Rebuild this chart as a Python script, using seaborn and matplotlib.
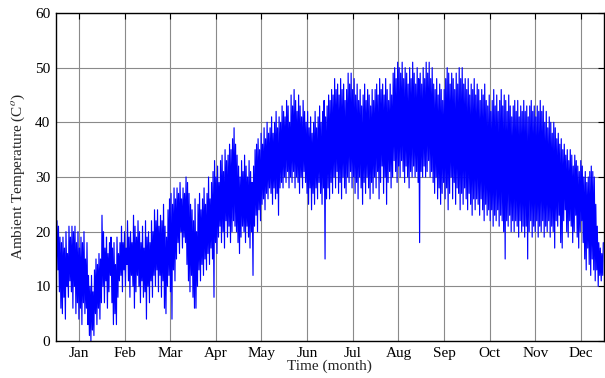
import numpy as np
import pandas as pd
import matplotlib
matplotlib.use("Agg")
import matplotlib.pyplot as plt
import seaborn as sns

# Daily minimum and maximum ambient temperature (deg C) for one year, by month
daily_low = [
    # Jan
    15, 13, 9, 6, 5, 8, 4, 10, 8, 11, 9, 6, 10, 5, 7, 4, 6, 3, 7, 5, 6, 3, 1, 0, 2, 1, 5, 3, 6, 4, 7,
    # Feb
    10, 7, 11, 6, 9, 12, 7, 3, 5, 3, 8, 11, 12, 9, 13, 10, 14, 11, 8, 12, 10, 6, 9, 12, 10, 7, 11, 8,
    # Mar
    9, 4, 10, 7, 11, 8, 12, 10, 13, 9, 12, 8, 11, 6, 5, 10, 12, 9, 4, 13, 11, 15, 18, 16, 20, 17, 19, 18, 14, 11, 9,
    # Apr
    12, 8, 6, 6, 10, 13, 11, 14, 12, 15, 13, 16, 14, 17, 15, 8, 18, 16, 19, 21, 18, 20, 17, 22, 19, 21, 18, 20, 22, 21,
    # May
    20, 18, 16, 19, 21, 20, 18, 21, 19, 17, 20, 12, 21, 23, 20, 24, 22, 25, 26, 24, 27, 26, 28, 27, 25, 28, 26, 27, 23, 28, 29,
    # Jun
    28, 30, 29, 31, 28, 30, 29, 31, 28, 30, 29, 27, 30, 28, 31, 29, 27, 25, 28, 24, 27, 25, 28, 26, 29, 27, 25, 28, 15, 26,
    # Jul
    28, 26, 29, 27, 30, 28, 31, 27, 29, 26, 30, 28, 27, 30, 29, 31, 28, 30, 27, 29, 26, 30, 28, 25, 29, 27, 30, 28, 26, 29, 27,
    # Aug
    30, 28, 31, 26, 29, 32, 27, 30, 25, 29, 31, 28, 30, 33, 31, 29, 32, 30, 33, 31, 29, 32, 30, 28, 31, 30, 32, 30, 31, 29, 18,
    # Sep
    31, 30, 32, 30, 31, 33, 30, 31, 29, 27, 30, 26, 28, 25, 27, 29, 26, 28, 24, 27, 30, 26, 29, 25, 28, 27, 24, 27, 25, 28,
    # Oct
    26, 24, 27, 25, 23, 26, 24, 26, 25, 23, 26, 24, 22, 25, 23, 24, 22, 24, 21, 23, 22, 24, 21, 23, 22, 20, 15, 22, 21, 23, 20,
    # Nov
    22, 20, 22, 21, 19, 22, 20, 21, 19, 21, 15, 20, 22, 19, 21, 20, 22, 19, 21, 20, 22, 19, 21, 20, 22, 19, 21, 20, 17, 22,
    # Dec
    21, 23, 18, 17, 22, 24, 20, 19, 22, 21, 18, 20, 23, 19, 17, 20, 22, 18, 15, 13, 17, 14, 12, 15, 13, 11, 13, 10, 12, 11, 12,
]

daily_high = [
    # Jan
    22, 21, 19, 18, 19, 17, 20, 16, 21, 19, 21, 20, 21, 18, 20, 17, 19, 18, 20, 15, 18, 12, 10, 12, 9, 13, 15, 14, 16, 15, 23,
    # Feb
    20, 17, 19, 16, 18, 19, 17, 18, 14, 19, 16, 18, 21, 18, 20, 17, 22, 19, 20, 18, 23, 21, 19, 22, 20, 18, 21, 17,
    # Mar
    22, 19, 20, 18, 22, 20, 24, 22, 24, 21, 23, 22, 25, 21, 19, 24, 26, 27, 25, 28, 26, 28, 27, 29, 26, 28, 27, 30, 29, 27, 25,
    # Apr
    24, 22, 26, 20, 25, 27, 24, 26, 28, 25, 27, 30, 26, 29, 31, 33, 30, 32, 29, 33, 34, 31, 35, 33, 34, 36, 35, 37, 39, 36,
    # May
    34, 32, 30, 33, 31, 34, 32, 30, 33, 31, 29, 32, 35, 36, 37, 35, 38, 36, 39, 37, 40, 38, 39, 41, 38, 40, 42, 39, 41, 40, 43,
    # Jun
    42, 41, 44, 43, 40, 45, 43, 46, 44, 42, 45, 43, 41, 44, 42, 40, 42, 39, 41, 38, 40, 42, 39, 41, 43, 40, 42, 44, 41, 43,
    # Jul
    45, 44, 46, 45, 48, 46, 47, 45, 48, 46, 47, 44, 46, 49, 47, 49, 46, 48, 45, 47, 44, 46, 43, 45, 47, 44, 46, 45, 43, 46, 44,
    # Aug
    46, 47, 45, 48, 46, 47, 45, 48, 46, 44, 47, 45, 49, 50, 48, 51, 50, 49, 51, 48, 50, 49, 47, 50, 48, 51, 49, 47, 50, 48, 49,
    # Sep
    47, 50, 48, 51, 49, 51, 48, 50, 47, 46, 48, 45, 47, 46, 44, 46, 48, 50, 49, 47, 49, 48, 46, 49, 47, 50, 48, 50, 47, 48,
    # Oct
    46, 48, 45, 47, 46, 48, 45, 47, 46, 44, 46, 45, 47, 44, 43, 45, 42, 44, 46, 43, 45, 42, 44, 46, 43, 45, 44, 42, 45, 43, 41,
    # Nov
    43, 44, 42, 44, 41, 43, 42, 44, 42, 43, 41, 43, 44, 42, 43, 41, 43, 42, 44, 42, 43, 40, 42, 39, 41, 40, 38, 40, 39, 37,
    # Dec
    38, 36, 37, 35, 36, 34, 35, 33, 35, 34, 32, 34, 33, 32, 31, 33, 32, 30, 31, 29, 30, 31, 32, 31, 30, 25, 21, 18, 17, 16, 18,
]

month_labels = ["Jan", "Feb", "Mar", "Apr", "May", "Jun",
                "Jul", "Aug", "Sep", "Oct", "Nov", "Dec"]

# Hourly time axis: each day's low in the early morning, high in mid-afternoon
days = np.arange(len(daily_low))
hours = np.column_stack([days * 24 + 6, days * 24 + 15]).ravel()
temps = np.column_stack([daily_low, daily_high]).ravel()
df = pd.DataFrame({"hour": hours, "temp": temps})

sns.set_style("white")
plt.rcParams["font.family"] = ["Liberation Serif", "DejaVu Serif"]
plt.rcParams["mathtext.fontset"] = "stix"

fig = plt.figure(figsize=(6.05, 3.78), dpi=100)
ax = fig.add_axes([0.0926, 0.0979, 0.9055, 0.8677])

sns.lineplot(data=df, x="hour", y="temp", color=(0, 0, 1), linewidth=0.85,
             estimator=None, sort=False, ax=ax)

ax.set_xlim(0, 8760)
ax.set_ylim(0, 60)
ax.set_xticks([365 + 730 * k for k in range(12)])
ax.set_xticklabels(month_labels)
ax.set_yticks(range(0, 61, 10))

ax.grid(True, color="#8a8a8a", linewidth=0.8, linestyle="-")
ax.set_axisbelow(True)
ax.tick_params(direction="in", length=4, width=0.8, top=True, right=True,
               labelsize=11, colors="black", pad=4)
for side in ["left", "right", "top", "bottom"]:
    ax.spines[side].set_color("black")
    ax.spines[side].set_linewidth(1.0)

ax.set_xlabel("Time (month)", fontsize=11, labelpad=0)
ax.set_ylabel("Ambient Temperature (C$^o$)", fontsize=11, labelpad=6)

fig.savefig("out.png", dpi=100)
